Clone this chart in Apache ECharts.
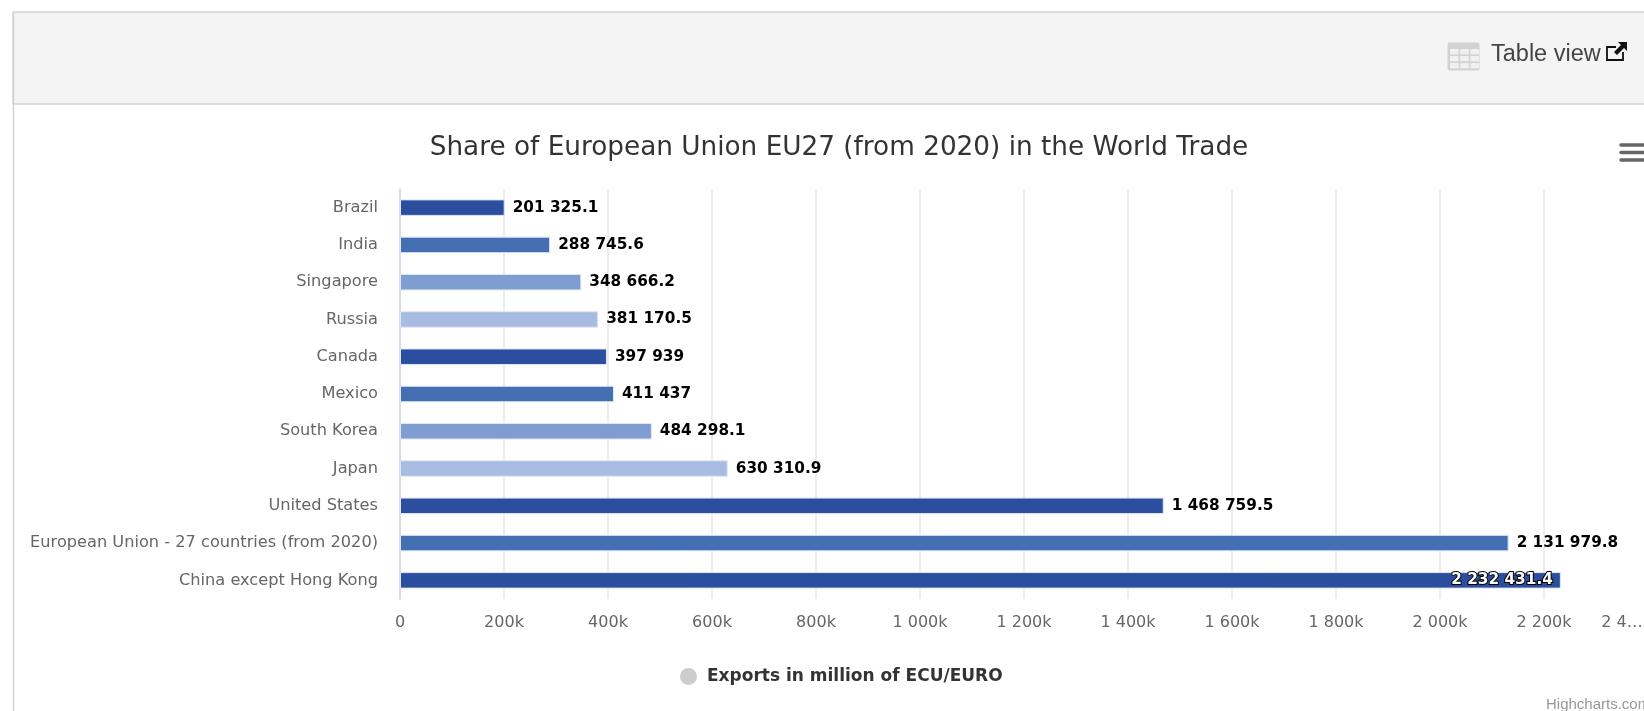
<!DOCTYPE html>
<html>
<head>
<meta charset="utf-8">
<style>
  html, body { margin: 0; padding: 0; background: #fff; overflow: hidden; }
  #chart { width: 1644px; height: 711px; }
</style>
<script src="https://cdn.jsdelivr.net/npm/echarts@6/dist/echarts.min.js"></script>
</head>
<body>
<div id="chart"></div>
<script>
// Exports by trading partner, million ECU/EURO
const categories = ['Brazil', 'India', 'Singapore', 'Russia', 'Canada', 'Mexico', 'South Korea', 'Japan',
  'United States', 'European Union - 27 countries (from 2020)', 'China except Hong Kong'];
const exportsValues = [201325.1, 288745.6, 348666.2, 381170.5, 397939, 411437, 484298.1, 630310.9,
  1468759.5, 2131979.8, 2232431.4];
const barColors = ['#2b4f9e', '#446fb2', '#7f9dd0', '#a8bbe0', '#2b4f9e', '#446fb2', '#7f9dd0', '#a8bbe0',
  '#2b4f9e', '#446fb2', '#2b4f9e'];
const seriesName = 'Exports in million of ECU/EURO';
const chartTitle = 'Share of European Union EU27 (from 2020) in the World Trade';
const insideLabelIndex = 10;

const FONT = '"DejaVu Sans", sans-serif';
const group = s => s.replace(/\B(?=(\d{3})+(?!\d))/g, ' ');
const formatValue = v => {
  const [whole, frac] = String(v).split('.');
  return group(whole) + (frac ? '.' + frac : '');
};

const chart = echarts.init(document.getElementById('chart'), null, { renderer: 'canvas' });

// Page chrome around the chart: header strip, frame, table icon, link icon, menu button
const tableIconCells = [];
for (let r = 0; r < 3; r++) {
  for (let c = 0; c < 3; c++) {
    tableIconCells.push({
      type: 'rect',
      shape: { x: 1450 + c * 10.2, y: 49 + r * 7, width: 8.6, height: 5.4 },
      style: { fill: '#f0f0f0' }
    });
  }
}

chart.setOption({
  animation: false,
  backgroundColor: '#fff',
  title: {
    text: chartTitle,
    left: 834,
    top: 130,
    textAlign: 'center',
    textStyle: { fontFamily: FONT, fontSize: 26.3, fontWeight: 'normal', color: '#333' }
  },
  legend: {
    left: 675,
    top: 663,
    icon: 'circle',
    itemWidth: 17,
    itemHeight: 17,
    itemGap: 10,
    selectedMode: false,
    textStyle: { fontFamily: FONT, fontSize: 17, fontWeight: 'bold', color: '#333', padding: [0, 0, 0, 5] },
    data: [{ name: seriesName, itemStyle: { color: '#cccccc' } }]
  },
  grid: { left: 400, right: -4, top: 189, bottom: 112, outerBoundsMode: 'none' },
  xAxis: {
    type: 'value',
    min: 0,
    max: 2400000,
    interval: 200000,
    axisLine: { show: false },
    axisTick: { show: false },
    splitLine: { show: true, lineStyle: { color: '#e6e6e6', width: 1.5 } },
    axisLabel: {
      margin: 16,
      fontFamily: FONT,
      fontSize: 16,
      color: '#666',
      hideOverlap: false,
      showMaxLabel: true,
      formatter: v => {
        if (v === 0) return '0';
        if (v === 2400000) return '{clip|2 4…}{pad|}';
        return group(String(v / 1000)) + 'k';
      },
      rich: {
        clip: { fontFamily: FONT, fontSize: 16, color: '#666' },
        pad: { width: 52 }
      }
    }
  },
  yAxis: {
    type: 'category',
    inverse: true,
    data: categories,
    axisLine: { show: true, lineStyle: { color: '#ccd6eb', width: 1.5 } },
    axisTick: { show: false },
    axisLabel: { margin: 22, padding: [6, 0, 0, 0], fontFamily: FONT, fontSize: 16.2, color: '#666', interval: 0 }
  },
  series: [{
    type: 'bar',
    name: seriesName,
    barWidth: 16.5,
    itemStyle: { color: '#cccccc' },
    label: {
      show: true,
      position: 'right',
      distance: 8,
      padding: [6, 0, 0, 0],
      fontFamily: FONT,
      fontSize: 15.3,
      fontWeight: 'bold',
      color: '#000',
      textBorderColor: '#fff',
      textBorderWidth: 2,
      formatter: p => formatValue(p.value)
    },
    data: exportsValues.map((value, i) => {
      const item = {
        value,
        itemStyle: { color: barColors[i], borderColor: '#dfe7f4', borderWidth: 1 }
      };
      if (i === insideLabelIndex) {
        item.label = { position: 'insideRight', distance: 8, color: '#fff', textBorderColor: '#000', textBorderWidth: 2 };
      }
      return item;
    })
  }],
  graphic: [
    { type: 'rect', z: -10, silent: true, shape: { x: 13, y: 12, width: 1640, height: 92 }, style: { fill: '#f4f4f4', stroke: '#d4d4d4', lineWidth: 1.5 } },
    { type: 'line', z: -10, silent: true, shape: { x1: 13.5, y1: 12, x2: 13.5, y2: 711 }, style: { stroke: '#d4d4d4', lineWidth: 1.5 } },
    { type: 'rect', shape: { x: 1447.5, y: 42.5, width: 32, height: 28, r: 2 }, style: { fill: '#d2d2d2' } },
    ...tableIconCells,
    { type: 'text', left: 1491, top: 43, style: { text: 'Table view', fontFamily: '"Liberation Sans", sans-serif', fontSize: 23.5, fill: '#444' } },
    { type: 'polyline', shape: { points: [[1616, 47], [1607, 47], [1607, 60], [1623, 60], [1623, 52]] }, style: { stroke: '#111', fill: null, lineWidth: 1.8 } },
    { type: 'polygon', shape: { points: [[1618, 42], [1627, 42], [1627, 51], [1624, 48], [1617, 55], [1614, 52], [1621, 45]] }, style: { fill: '#111' } },
    { type: 'line', shape: { x1: 1621, y1: 145, x2: 1646, y2: 145 }, style: { stroke: '#666', lineWidth: 3.5, lineCap: 'round' } },
    { type: 'line', shape: { x1: 1621, y1: 152.5, x2: 1646, y2: 152.5 }, style: { stroke: '#666', lineWidth: 3.5, lineCap: 'round' } },
    { type: 'line', shape: { x1: 1621, y1: 160, x2: 1646, y2: 160 }, style: { stroke: '#666', lineWidth: 3.5, lineCap: 'round' } },
    { type: 'text', left: 1546, top: 697, style: { text: 'Highcharts.com', fontFamily: '"Liberation Sans", sans-serif', fontSize: 15, fill: '#999' } }
  ]
});
</script>
</body>
</html>
